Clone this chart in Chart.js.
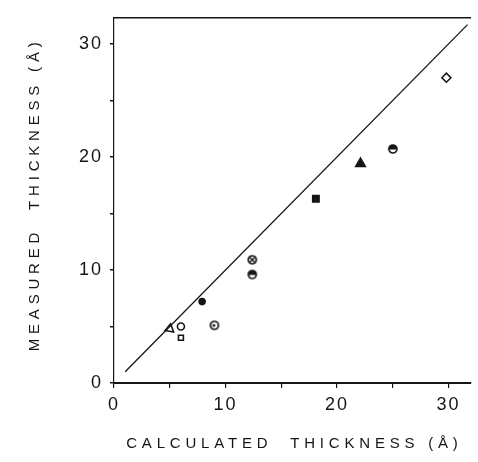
<!DOCTYPE html>
<html>
<head>
<meta charset="utf-8">
<script src="https://cdn.jsdelivr.net/npm/chart.js@4.4.0/dist/chart.umd.min.js"></script>
<style>
  body { margin: 0; background: #fff; }
  canvas { display: block; }
</style>
</head>
<body>
<canvas id="thicknessChart" width="478" height="462"></canvas>
<script>
// data (calculated vs measured thickness, Å)
const openTriCalc = [5.0],   openTriMeas = [4.8];
const openCircCalc = [6.0],  openCircMeas = [5.0];
const openSqCalc = [6.0],    openSqMeas = [4.0];
const dotCircCalc = [9.0],   dotCircMeas = [5.1];
const fillCircCalc = [7.9],  fillCircMeas = [7.2];
const crossCircCalc = [12.4], crossCircMeas = [10.9];
const halfCircCalc = [12.4, 25.0], halfCircMeas = [9.6, 20.7];
const fillSqCalc = [18.1],   fillSqMeas = [16.3];
const fillTriCalc = [22.1],  fillTriMeas = [19.4];
const diamondCalc = [29.8],  diamondMeas = [27.0];
const lineCalc = [1, 31.7],  lineMeas = [1, 31.7];

const yTickLabels = [0, 10, 20, 30];
const xTickLabels = [0, 10, 20, 30];

const INK = '#151515';

function pts(xs, ys) {
  return xs.map((x, i) => ({ x: x, y: ys[i] }));
}

// little hand-made markers for the odd symbols
function makeMarker(kind) {
  const c = document.createElement('canvas');
  c.width = 12; c.height = 12;
  const g = c.getContext('2d');
  g.strokeStyle = INK;
  g.fillStyle = INK;
  g.lineWidth = 1.7;
  g.beginPath();
  g.arc(6, 6, 4, 0, Math.PI * 2);
  if (kind === 'half') {
    g.save();
    g.clip();
    g.fillRect(0, 0, 12, 6.5);
    g.restore();
  }
  g.stroke();
  if (kind === 'dot') {
    g.beginPath();
    g.arc(5.5, 6.2, 1.4, 0, Math.PI * 2);
    g.fill();
  }
  if (kind === 'cross') {
    g.lineWidth = 1.4;
    g.beginPath();
    g.moveTo(3.5, 3.5); g.lineTo(8.5, 8.5);
    g.moveTo(8.5, 3.5); g.lineTo(3.5, 8.5);
    g.stroke();
  }
  return c;
}

function markerSet(data, style, opts) {
  return Object.assign({
    data: data,
    pointStyle: style,
    pointRadius: 4,
    pointBorderWidth: 1.6,
    pointBorderColor: INK,
    pointBackgroundColor: '#fff',
    showLine: false
  }, opts || {});
}

const titlePlugin = {
  id: 'axisTitles',
  beforeDraw(chart) {
    chart.ctx.letterSpacing = '2px';
  },
  afterDraw(chart) {
    const ctx = chart.ctx;
    const area = chart.chartArea;
    ctx.save();
    ctx.fillStyle = INK;
    ctx.font = '15px "Liberation Sans", Arial, sans-serif';
    ctx.letterSpacing = '4.8px';
    ctx.textAlign = 'center';
    ctx.textBaseline = 'middle';
    ctx.fillText('CALCULATED  THICKNESS (Å)', (area.left + area.right) / 2 + 2, 444);
    ctx.translate(35, (area.top + area.bottom) / 2 - 6);
    ctx.rotate(-Math.PI / 2);
    ctx.fillText('MEASURED  THICKNESS (Å)', 0, 0);
    ctx.restore();
  }
};

new Chart(document.getElementById('thicknessChart'), {
  type: 'scatter',
  data: {
    datasets: [
      { data: pts(lineCalc, lineMeas), showLine: true, pointRadius: 0,
        borderColor: INK, borderWidth: 1.3 },
      markerSet(pts(openTriCalc, openTriMeas), 'triangle', { pointRadius: 5, rotation: 250 }),
      markerSet(pts(openCircCalc, openCircMeas), 'circle', { pointRadius: 3.5 }),
      markerSet(pts(openSqCalc, openSqMeas), 'rect', { pointRadius: 3.5 }),
      markerSet(pts(dotCircCalc, dotCircMeas), makeMarker('dot')),
      markerSet(pts(fillCircCalc, fillCircMeas), 'circle', { pointRadius: 3, pointBackgroundColor: INK }),
      markerSet(pts(crossCircCalc, crossCircMeas), makeMarker('cross')),
      markerSet(pts(halfCircCalc, halfCircMeas), makeMarker('half')),
      markerSet(pts(fillSqCalc, fillSqMeas), 'rect', { pointRadius: 4.5, pointBackgroundColor: INK }),
      markerSet(pts(fillTriCalc, fillTriMeas), 'triangle', { pointRadius: 5.5, pointBackgroundColor: INK }),
      markerSet(pts(diamondCalc, diamondMeas), 'rectRot', { pointRadius: 4.5 })
    ]
  },
  options: {
    responsive: false,
    animation: false,
    events: [],
    layout: { padding: { top: 17, right: 0, left: 0, bottom: 0 } },
    plugins: { legend: { display: false }, tooltip: { enabled: false } },
    scales: {
      x: {
        type: 'linear',
        min: 0, max: 32,
        afterFit(scale) { scale.height = 79; },
        border: { display: true, color: INK, width: 2 },
        grid: { drawOnChartArea: false, tickLength: 5, color: INK, tickColor: INK, lineWidth: 1.2 },
        ticks: {
          stepSize: 5, includeBounds: false, padding: 6, color: INK,
          font: { family: '"Liberation Sans", Arial, sans-serif', size: 18 },
          callback: v => xTickLabels.includes(v) ? String(v) : ''
        }
      },
      top: {
        type: 'linear', position: 'top', axis: 'x',
        min: 0, max: 32,
        afterFit(scale) { scale.height = 0; },
        border: { display: true, color: INK, width: 1.6 },
        grid: { display: false },
        ticks: { display: false }
      },
      y: {
        type: 'linear',
        min: 0, max: 32.3,
        afterFit(scale) { scale.width = 114; },
        border: { display: true, color: INK, width: 1.2 },
        grid: { drawOnChartArea: false, tickLength: 4, color: INK, tickColor: INK, lineWidth: 1.5 },
        ticks: {
          stepSize: 5, includeBounds: false, padding: 7, color: INK,
          font: { family: '"Liberation Sans", Arial, sans-serif', size: 18 },
          callback: v => yTickLabels.includes(v) ? String(v) : ''
        }
      }
    }
  },
  plugins: [titlePlugin]
});
</script>
</body>
</html>
